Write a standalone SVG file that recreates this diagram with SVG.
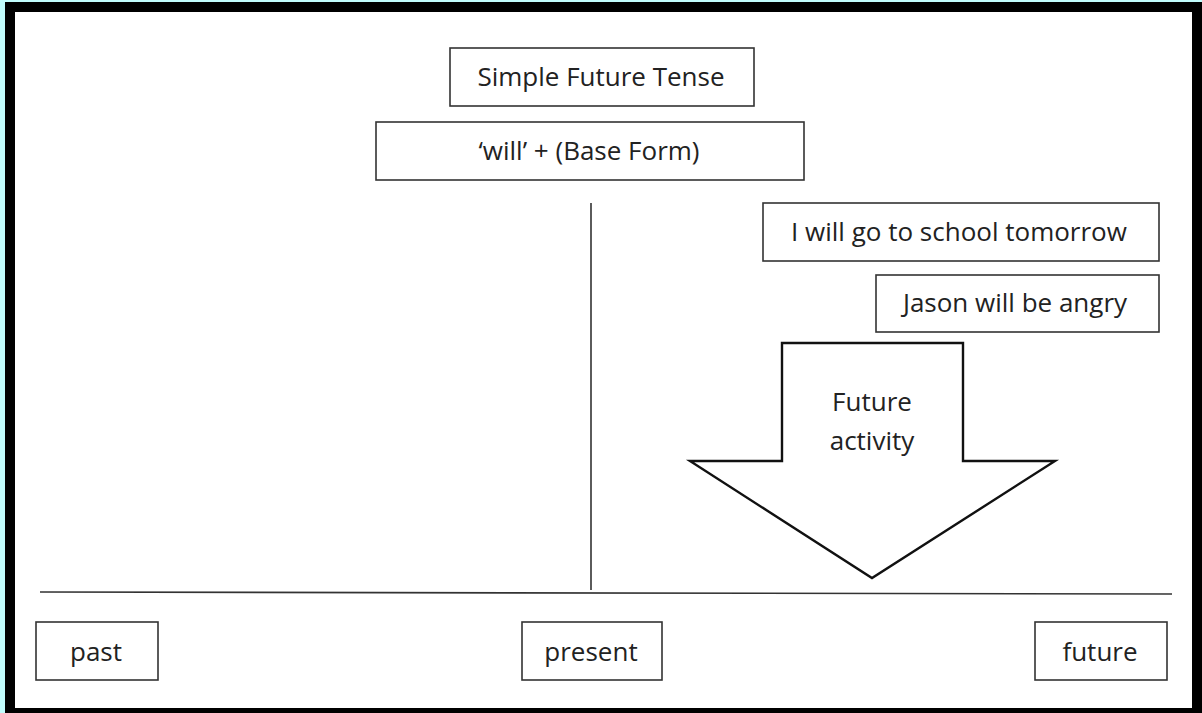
<svg xmlns="http://www.w3.org/2000/svg" width="1202" height="713" viewBox="0 0 1202 713">
<style>
.box{fill:#fff;stroke:#333;stroke-width:1.6}
.t{font-family:"Open Sans","Noto Sans",sans-serif;font-size:26px;fill:#222;text-anchor:middle}
.ln{stroke:#333;stroke-width:1.6;fill:none}
</style>
<rect x="0" y="0" width="1202" height="713" fill="#c0fcfc"/>
<rect x="5" y="2" width="1197" height="711" fill="#000"/>
<rect x="15" y="12" width="1177" height="696" fill="#fff"/>
<g id="connectors">
<line class="ln" x1="591" y1="203" x2="591" y2="590"/>
<line class="ln" x1="40" y1="592" x2="1172" y2="594"/>
</g>
<g id="title"><rect class="box" x="450" y="48" width="304" height="58"/><text class="t" x="601" y="86">Simple Future Tense</text></g>
<g id="formula"><rect class="box" x="376" y="122" width="428" height="58"/><text class="t" x="589" y="160">‘will’ + (Base Form)</text></g>
<g id="ex1"><rect class="box" x="763" y="203" width="396" height="58"/><text class="t" x="959" y="241">I will go to school tomorrow</text></g>
<g id="ex2"><rect class="box" x="876" y="275" width="283" height="57"/><text class="t" x="1015" y="312">Jason will be angry</text></g>
<g id="arrow"><path d="M782,343 H963 V461 H1055 L872,578 L690,461 H782 Z" fill="#fff" stroke="#111" stroke-width="2.4" stroke-linejoin="miter"/><text class="t" x="872" y="411">Future</text><text class="t" x="872" y="450">activity</text></g>
<g id="past"><rect class="box" x="36" y="622" width="122" height="58"/><text class="t" x="96" y="661">past</text></g>
<g id="present"><rect class="box" x="522" y="622" width="140" height="58"/><text class="t" x="591" y="661">present</text></g>
<g id="future"><rect class="box" x="1035" y="622" width="132" height="58"/><text class="t" x="1100" y="661">future</text></g>
</svg>
